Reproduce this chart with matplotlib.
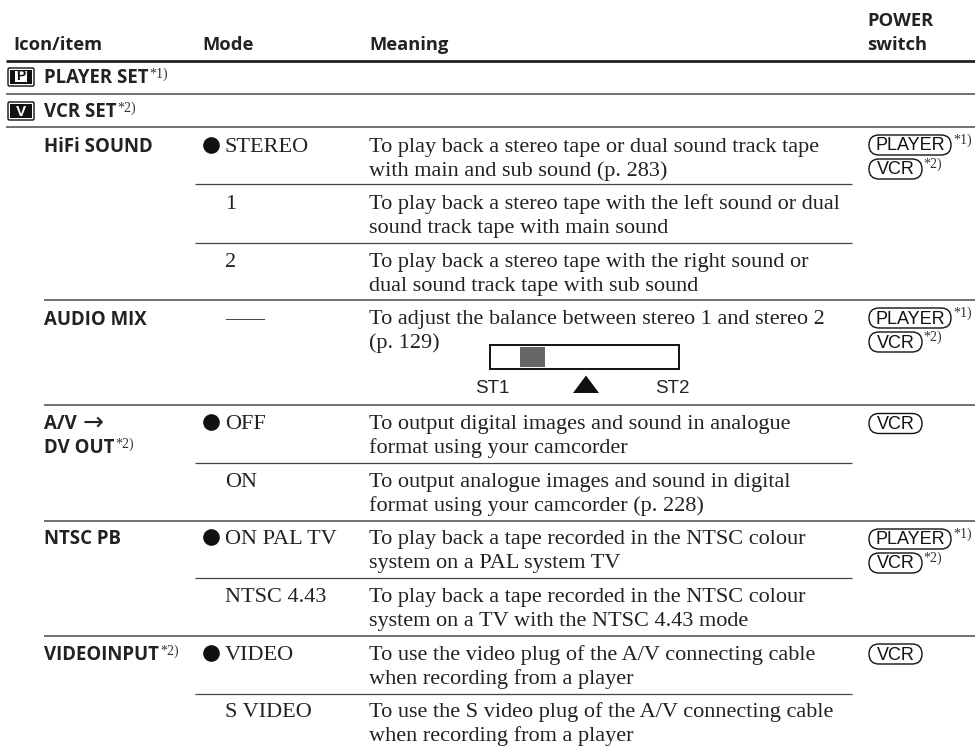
import matplotlib
matplotlib.use('Agg')
import matplotlib.pyplot as plt
from matplotlib.patches import Rectangle, FancyBboxPatch, Polygon

BOLD = 'Open Sans'
SERIF = 'Liberation Serif'
SANS = 'Liberation Sans'

# column headers (label, x, baseline)
headers = [('Icon/item', 13.5, 50), ('Mode', 202.5, 50), ('Meaning', 369, 50),
           ('POWER', 867.5, 26), ('switch', 867.5, 50)]

# section rows
sections = [('PLAYER SET', '*1)', 'P', 83), ('VCR SET', '*2)', 'V', 117)]

# item name, note, baseline y
items = [
    ('HiFi SOUND', None, 152),
    ('AUDIO MIX', None, 325),
    ('DV OUT', '*2)', 453),
    ('NTSC PB', None, 544),
    ('VIDEOINPUT', '*2)', 660),
]

# mode label, default marker, baseline y
modes = [
    ('STEREO', True, 152),
    ('1', False, 209),
    ('2', False, 267),
    ('——', False, 324),
    ('OFF', True, 429),
    ('ON', False, 487),
    ('ON PAL TV', True, 544),
    ('NTSC 4.43', False, 602),
    ('VIDEO', True, 660),
    ('S VIDEO', False, 717),
]

# meaning text lines
meanings = [
    (152, ['To play back a stereo tape or dual sound track tape', 'with main and sub sound (p. 283)']),
    (209, ['To play back a stereo tape with the left sound or dual', 'sound track tape with main sound']),
    (267, ['To play back a stereo tape with the right sound or', 'dual sound track tape with sub sound']),
    (324, ['To adjust the balance between stereo 1 and stereo 2', '(p. 129)']),
    (429, ['To output digital images and sound in analogue', 'format using your camcorder']),
    (487, ['To output analogue images and sound in digital', 'format using your camcorder (p. 228)']),
    (544, ['To play back a tape recorded in the NTSC colour', 'system on a PAL system TV']),
    (602, ['To play back a tape recorded in the NTSC colour', 'system on a TV with the NTSC 4.43 mode']),
    (660, ['To use the video plug of the A/V connecting cable', 'when recording from a player']),
    (717, ['To use the S video plug of the A/V connecting cable', 'when recording from a player']),
]

# rules: y, x start
full_rules = [(94, 6), (127, 6), (300, 44), (405, 44), (520.5, 44), (636, 44)]
sub_rules = [184, 242.5, 463, 578, 693.5]

# power switch centres
both_switch = [145, 318, 539]
vcr_switch = [423.5, 654]

fig = plt.figure(figsize=(9.75, 7.47), dpi=100)
ax = fig.add_axes([0, 0, 1, 1])
ax.set_xlim(0, 975)
ax.set_ylim(747, 0)
ax.axis('off')


def serif(x, y, s, size=16):
    ax.text(x, y, s, family=SERIF, fontsize=size, color='#222222', va='baseline', ha='left')


def bold(x, y, s, size=13.4):
    return ax.text(x, y, s, family=BOLD, fontweight='bold', fontsize=size, color='#222222', va='baseline', ha='left')


def note_after(t, s):
    fig.canvas.draw()
    bb = t.get_window_extent()
    ax.text(bb.x1 + 1, t.get_position()[1] - 5, s, family=SERIF, fontsize=10, color='#333333', va='baseline', ha='left')


def icon(y, letter):
    ax.add_patch(FancyBboxPatch((8, y - 9), 26, 18, boxstyle='round,pad=0,rounding_size=1.5',
                                fc='white', ec='#111111', lw=1))
    ax.add_patch(Rectangle((10, y - 7), 22, 14, fc='#111111', ec='none'))
    if letter == 'P':
        ax.add_patch(Rectangle((15, y - 6), 12, 11, fc='white', ec='none'))
        ax.text(21, y - 0.5, letter, family=SANS, fontweight='bold', fontsize=10, color='#111111', ha='center', va='center')
    else:
        ax.text(21, y + 0.5, letter, family=SANS, fontweight='bold', fontsize=11, color='white', ha='center', va='center')


def switch(x, y, s, w):
    ax.add_patch(FancyBboxPatch((x, y - 10), w, 20, boxstyle='round,pad=0,rounding_size=10',
                                fc='white', ec='#111111', lw=1))
    ax.text(x + w / 2, y + 1, s, family=SANS, fontsize=13, color='#111111', ha='center', va='center')


# header
for s, x, y in headers:
    bold(x, y, s, 13.2)
ax.plot([6, 975], [61, 61], color='#222222', lw=2, solid_capstyle='butt')

for y, x0 in full_rules:
    ax.plot([x0, 975], [y, y], color='#666666', lw=1.3, solid_capstyle='butt')
for y in sub_rules:
    ax.plot([195, 852], [y, y], color='#444444', lw=0.9, solid_capstyle='butt')

for name, note, letter, y in sections:
    icon(y - 6, letter)
    t = bold(44, y, name)
    note_after(t, note)

for name, note, y in items:
    t = bold(44, y, name)
    if note:
        note_after(t, note)

# two line item with the arrow, which the bold font has not got
bold(44, 429, 'A/V')
ax.text(83, 430, '→', family=['DejaVu Sans'], fontsize=18, color='#222222', va='baseline', ha='left')

for label, default, y in modes:
    if default:
        ax.plot([210.7], [y - 7.5], 'o', color='#111111', ms=12, mec='none')
    serif(225, y, label, 14.4 if label == '——' else 16)

for y, lines in meanings:
    for i, line in enumerate(lines):
        serif(369, y + i * 24, line)

# balance bar
ax.add_patch(Rectangle((490, 345), 189, 24, fc='white', ec='#111111', lw=1.4))
ax.add_patch(Rectangle((520, 347), 25, 20, fc='#666666', ec='none'))
ax.add_patch(Polygon([(573, 393), (599, 393), (586, 375.5)], fc='#111111', ec='none'))
ax.text(475, 393, 'ST1', family=SANS, fontsize=13.5, color='#222222', ha='left', va='baseline')
ax.text(655, 393, 'ST2', family=SANS, fontsize=13.5, color='#222222', ha='left', va='baseline')

# power switch column
for y in both_switch:
    switch(869, y, 'PLAYER', 82)
    ax.text(953, y - 1, '*1)', family=SERIF, fontsize=10, color='#333333', va='baseline')
    switch(869, y + 24, 'VCR', 53)
    ax.text(923, y + 23, '*2)', family=SERIF, fontsize=10, color='#333333', va='baseline')
for y in vcr_switch:
    switch(869, y, 'VCR', 53)

fig.savefig('out.png', dpi=100)
